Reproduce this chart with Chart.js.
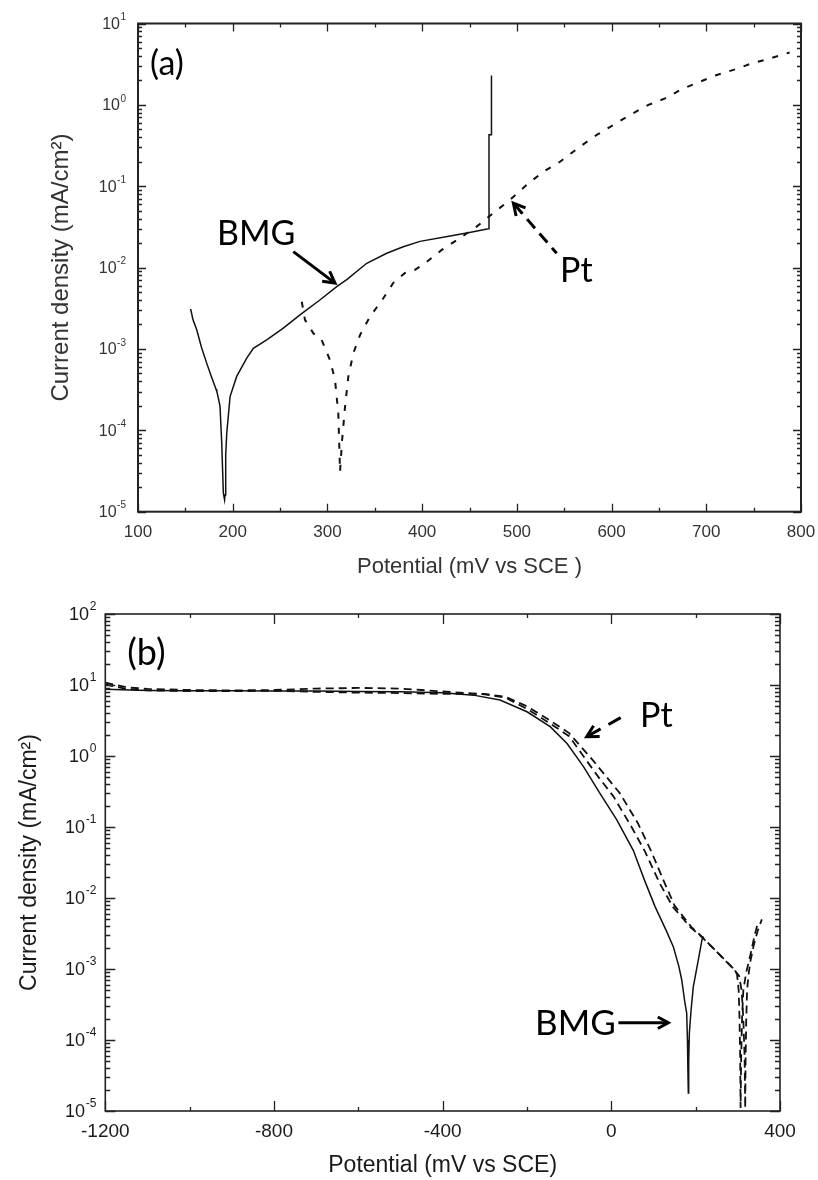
<!DOCTYPE html>
<html>
<head>
<meta charset="utf-8">
<title>Polarization curves</title>
<script src="https://cdn.jsdelivr.net/npm/chart.js@4.4.0/dist/chart.umd.min.js"></script>
<style>
  html, body { margin: 0; padding: 0; background: #fff; }
  #wrap { position: relative; width: 818px; height: 1180px; }
  .box { position: absolute; left: 0; width: 818px; height: 590px; }
</style>
</head>
<body>
<div id="wrap">
  <div class="box" style="top:0"><canvas id="chartA" width="818" height="590"></canvas></div>
  <div class="box" style="top:590px"><canvas id="chartB" width="818" height="590"></canvas></div>
</div>
<script>
/*
 * (a) anodic scan : potential (mV vs SCE) / current density (mA/cm2)
 * */
var potA_bmg = [155.6, 158, 162, 167, 172.5, 178, 182.4, 183.2, 184.5, 186.6, 188.4, 190.1, 191.4, 191.9, 192.6, 193.7, 197.2, 204.2, 214.8, 221.8, 235.9, 253.4, 271, 292, 309.8, 320.4, 341.5, 362.6, 380, 397.8, 429.5, 450, 469.9, 470.6, 470.6, 473.2, 473.2];
var curA_bmg = [3.1e-3, 2.3e-3, 1.72e-3, 1.05e-3, 6.7e-4, 4.4e-4, 3.2e-4, 3.0e-4, 2.6e-4, 1.97e-4, 7e-5, 1.7e-5, 1.4e-5, 1.6e-5, 5e-5, 9.2e-5, 2.6e-4, 4.6e-4, 7.7e-4, 1.02e-3, 1.29e-3, 1.8e-3, 2.63e-3, 4.0e-3, 5.85e-3, 7.1e-3, 1.13e-2, 1.5e-2, 1.8e-2, 2.1e-2, 2.45e-2, 2.7e-2, 3.0e-2, 3.0e-2, 0.43, 0.43, 2.3];

var potA_pt = [272.9, 276.3, 285.1, 293.9, 302.7, 308, 311.5, 312.6, 313.3, 315.5, 318.6, 322.1, 327.4, 334.5, 345, 359, 369.6, 381.9, 392, 403, 420.7, 439.9, 457.5, 477, 492.8, 510.4, 528, 545.6, 566.7, 584.3, 601.9, 619.5, 638.9, 656.5, 674.1, 693.5, 711.1, 728.7, 746.3, 763.9, 788];
var curA_pt = [3.8e-3, 2.28e-3, 1.56e-3, 1.29e-3, 7.3e-4, 4.2e-4, 1.6e-4, 6e-5, 3.1e-5, 7.6e-5, 1.96e-4, 4.6e-4, 8.9e-4, 1.49e-3, 2.5e-3, 4.2e-3, 6.5e-3, 8.6e-3, 9.3e-3, 1.13e-2, 1.65e-2, 2.3e-2, 3.19e-2, 4.87e-2, 6.8e-2, 0.104, 0.151, 0.2, 0.307, 0.427, 0.566, 0.752, 1.0, 1.2, 1.56, 1.93, 2.33, 2.69, 3.18, 3.63, 4.4];

/*
 * (b) full scan
 * */
var potB_bmg = [-1200, -1100, -1000, -900, -800, -700, -600, -500, -400, -327, -264, -200, -145, -105, -66, -27, 13, 52, 80, 104, 130, 147, 160, 167, 174, 178.7, 180.5, 181.5, 182.6, 183.5, 185, 189, 194.4, 206.3, 214.2, 217];
var curB_bmg = [8.7, 8.4, 8.3, 8.3, 8.2, 8.2, 8.1, 8.05, 7.8, 7.2, 6.15, 4.2, 2.59, 1.5, 0.71, 0.298, 0.126, 0.047, 0.017, 7.5e-3, 3.5e-3, 2.06e-3, 1.1e-3, 7e-4, 3.5e-4, 2.4e-4, 1e-4, 4e-5, 1.8e-5, 5e-5, 1.24e-4, 2.6e-4, 5.6e-4, 1.34e-3, 2.43e-3, 2.9e-3];

var potB_pt1 = [-1200, -1150, -1100, -1000, -900, -800, -700, -600, -500, -450, -400, -300, -250, -200, -150, -100, -58, -30, 5, 48, 80, 115, 146, 187, 214, 250, 289, 298, 302, 304, 305.5, 306.5, 308, 310, 313, 320, 330, 340, 348];
var curB_pt1 = [10.8, 9.3, 8.8, 8.5, 8.4, 8.5, 8.9, 9.1, 8.9, 8.5, 8.1, 7.4, 6.6, 4.6, 3.0, 1.9, 0.85, 0.5, 0.27, 0.1, 0.045, 0.016, 7.5e-3, 3.9e-3, 2.85e-3, 1.75e-3, 1.02e-3, 8.5e-4, 5e-4, 2e-4, 6e-5, 1.1e-5, 6e-5, 2e-4, 5e-4, 9e-4, 1.6e-3, 3e-3, 4.6e-3];

var potB_pt2 = [-1200, -1150, -1100, -1000, -900, -800, -700, -600, -500, -400, -300, -250, -200, -150, -100, -43, 20, 63, 95, 125, 150, 190, 216, 250, 290, 303, 309, 313, 316, 317.5, 318.5, 320, 322, 325, 330, 338, 348, 357];
var curB_pt2 = [10.2, 8.8, 8.4, 8.2, 8.2, 8.3, 8.0, 7.8, 7.7, 7.5, 7.5, 6.8, 5.0, 3.3, 2.1, 0.86, 0.3, 0.113, 0.045, 0.017, 7.8e-3, 3.9e-3, 2.8e-3, 1.75e-3, 1.0e-3, 8e-4, 5e-4, 2e-4, 6e-5, 1.1e-5, 6e-5, 2e-4, 5e-4, 8e-4, 1.3e-3, 2.2e-3, 3.6e-3, 5e-3];

var SANS = "'Liberation Sans', Arial, sans-serif";
var NOTE_FONT = "Lato, 'Open Sans', sans-serif";

function toPoints(xs, ys) {
    var pts = [];
    for (var i = 0; i < xs.length; i++) {
        pts.push({x: xs[i], y: ys[i]});
    }
    return pts;
}

// frame, inward ticks (top/bottom/left/right) and 10^n labels
var frameTicks = {
    id: 'frameTicks',
    afterDatasetsDraw: function (chart, args, o) {
        var ctx = chart.ctx;
        var a = chart.chartArea;
        var xs = chart.scales.x;
        var ys = chart.scales.y;

        ctx.save();
        ctx.strokeStyle = o.color;
        ctx.lineWidth = o.tickWidth;
        ctx.beginPath();

        var xt = xs.ticks;
        for (var i = 0; i < xt.length; i++) {
            var px = Math.round(xs.getPixelForValue(xt[i].value)) + 0.5;
            ctx.moveTo(px, a.bottom); ctx.lineTo(px, a.bottom - o.xMajor);
            ctx.moveTo(px, a.top); ctx.lineTo(px, a.top + o.xMajor);
            if (i < xt.length - 1) {
                var pm = Math.round(xs.getPixelForValue((xt[i].value + xt[i + 1].value) / 2)) + 0.5;
                ctx.moveTo(pm, a.bottom); ctx.lineTo(pm, a.bottom - o.xMinor);
                ctx.moveTo(pm, a.top); ctx.lineTo(pm, a.top + o.xMinor);
            }
        }

        var lo = Math.round(Math.log10(ys.min));
        var hi = Math.round(Math.log10(ys.max));
        for (var e = lo; e <= hi; e++) {
            for (var m = 1; m <= 9; m++) {
                if (e === hi && m > 1) break;
                var py = Math.round(ys.getPixelForValue(m * Math.pow(10, e))) + 0.5;
                var len = m === 1 ? o.yMajor : o.yMinor;
                ctx.moveTo(a.left, py); ctx.lineTo(a.left + len, py);
                ctx.moveTo(a.right, py); ctx.lineTo(a.right - len, py);
            }
        }
        ctx.stroke();

        ctx.lineWidth = o.frameWidth;
        ctx.strokeRect(a.left, a.top, a.right - a.left, a.bottom - a.top);

        // decade labels: "10" with a small raised exponent
        ctx.fillStyle = o.textColor;
        ctx.textAlign = 'right';
        ctx.textBaseline = 'middle';
        for (var d = lo; d <= hi; d++) {
            var y = ys.getPixelForValue(Math.pow(10, d));
            var exp = String(d);
            ctx.font = o.expSize + 'px ' + SANS;
            var ew = ctx.measureText(exp).width;
            ctx.fillText(exp, a.left - o.labelGap, y - o.expRaise);
            ctx.font = o.baseSize + 'px ' + SANS;
            ctx.fillText('10', a.left - o.labelGap - ew - 0.5, y + o.baseShift);
        }
        ctx.restore();
    }
};

// text labels and arrows placed in data coordinates
var notes = {
    id: 'notes',
    afterDraw: function (chart, args, o) {
        var ctx = chart.ctx;
        var xs = chart.scales.x;
        var ys = chart.scales.y;
        ctx.save();
        ctx.fillStyle = '#000';
        ctx.textAlign = 'left';
        ctx.textBaseline = 'alphabetic';
        o.labels.forEach(function (l) {
            ctx.font = l.size + 'px ' + NOTE_FONT;
            ctx.fillText(l.text, xs.getPixelForValue(l.x), ys.getPixelForValue(l.y));
        });
        ctx.strokeStyle = '#000';
        ctx.lineCap = 'butt';
        o.arrows.forEach(function (ar) {
            var x1 = xs.getPixelForValue(ar.from[0]), y1 = ys.getPixelForValue(ar.from[1]);
            var x2 = xs.getPixelForValue(ar.to[0]), y2 = ys.getPixelForValue(ar.to[1]);
            var ang = Math.atan2(y1 - y2, x1 - x2);
            ctx.lineWidth = ar.width;
            ctx.setLineDash(ar.dash);
            ctx.beginPath();
            ctx.moveTo(x2 + Math.cos(ang) * 2, y2 + Math.sin(ang) * 2);
            ctx.lineTo(x1, y1);
            ctx.stroke();
            ctx.setLineDash([]);
            ctx.beginPath();
            ctx.moveTo(x2 + Math.cos(ang + 0.5) * ar.head, y2 + Math.sin(ang + 0.5) * ar.head);
            ctx.lineTo(x2, y2);
            ctx.lineTo(x2 + Math.cos(ang - 0.5) * ar.head, y2 + Math.sin(ang - 0.5) * ar.head);
            ctx.stroke();
        });
        ctx.restore();
    }
};

function lineSet(xs, ys, dash, width) {
    return {
        data: toPoints(xs, ys),
        borderColor: '#111',
        borderWidth: width,
        borderDash: dash,
        pointRadius: 0,
        tension: 0,
        fill: false
    };
}

function loadChart(canvasId, datasets, cfg) {
    var ctx = document.getElementById(canvasId).getContext('2d');
    return new Chart(ctx, {
        type: 'line',
        data: {datasets: datasets},
        plugins: [frameTicks, notes],
        options: {
            responsive: false,
            animation: false,
            events: [],
            layout: {padding: {top: cfg.padTop, right: cfg.padRight, left: 0, bottom: 0}},
            plugins: {
                legend: {display: false},
                tooltip: {enabled: false},
                frameTicks: cfg.ticks,
                notes: cfg.notes
            },
            scales: {
                x: {
                    type: 'linear',
                    min: cfg.xMin,
                    max: cfg.xMax,
                    ticks: {
                        stepSize: cfg.xStep,
                        padding: cfg.xTickPad,
                        color: cfg.textColor,
                        font: {family: SANS, size: cfg.xTickSize, lineHeight: cfg.xTickLine},
                        maxRotation: 0,
                        autoSkip: false,
                        callback: function (v) { return String(v); }
                    },
                    grid: {display: false, drawTicks: false},
                    border: {display: false},
                    title: {
                        display: true,
                        text: cfg.xTitle,
                        color: cfg.textColor,
                        font: {family: SANS, size: cfg.xTitleSize},
                        padding: {top: 0, bottom: cfg.xTitlePad}
                    },
                    afterFit: function (s) { s.height = cfg.xHeight; }
                },
                y: {
                    type: 'logarithmic',
                    min: cfg.yMin,
                    max: cfg.yMax,
                    ticks: {display: false},
                    grid: {display: false, drawTicks: false},
                    border: {display: false},
                    title: {
                        display: true,
                        text: 'Current density (mA/cm\u00B2)',
                        color: cfg.textColor,
                        font: {family: SANS, size: cfg.yTitleSize},
                        padding: {top: cfg.yTitlePad, bottom: 0}
                    },
                    afterFit: function (s) { s.width = cfg.yWidth; }
                }
            }
        }
    });
}

loadChart('chartA', [
    lineSet(potA_bmg, curA_bmg, [], 1.5),
    lineSet(potA_pt, curA_pt, [6, 9], 2)
], {
    padTop: 23.5, padRight: 17,
    xMin: 100, xMax: 800, xStep: 100, xTickPad: 0, xTickSize: 17, xTickLine: 2.4,
    xTitle: 'Potential (mV vs SCE )', xTitleSize: 22, xTitlePad: 10, xHeight: 78.3,
    yMin: 1e-5, yMax: 10, yTitleSize: 24, yTitlePad: 47, yWidth: 138,
    textColor: '#333',
    ticks: {color: '#222', tickWidth: 1.3, frameWidth: 2, xMajor: 8, xMinor: 4, yMajor: 8, yMinor: 4,
            textColor: '#333', baseSize: 16, expSize: 10, labelGap: 12, expRaise: 6, baseShift: 1},
    notes: {
        labels: [
            {text: '(a)', x: 112.7, y: 2.33, size: 34},
            {text: 'BMG', x: 183.4, y: 0.019, size: 34},
            {text: 'Pt', x: 545.6, y: 0.0067, size: 34}
        ],
        arrows: [
            {from: [264, 0.0157], to: [308, 0.00645], dash: [], width: 3, head: 13},
            {from: [542, 0.015], to: [496.3, 0.0618], dash: [12, 7], width: 3, head: 13}
        ]
    }
});

loadChart('chartB', [
    lineSet(potB_bmg, curB_bmg, [], 1.5),
    lineSet(potB_pt1, curB_pt1, [8, 5], 1.8),
    lineSet(potB_pt2, curB_pt2, [8, 5], 1.8)
], {
    padTop: 24, padRight: 38,
    xMin: -1200, xMax: 400, xStep: 400, xTickPad: 9, xTickSize: 19, xTickLine: 1.2,
    xTitle: 'Potential (mV vs SCE)', xTitleSize: 23, xTitlePad: 1, xHeight: 69,
    yMin: 1e-5, yMax: 100, yTitleSize: 23, yTitlePad: 16, yWidth: 105.3,
    textColor: '#1a1a1a',
    ticks: {color: '#222', tickWidth: 1.3, frameWidth: 1.6, xMajor: 10, xMinor: 4, yMajor: 10, yMinor: 5,
            textColor: '#1a1a1a', baseSize: 18, expSize: 12, labelGap: 9, expRaise: 7, baseShift: 1},
    notes: {
        labels: [
            {text: '(b)', x: -1148, y: 19, size: 36},
            {text: 'Pt', x: 68, y: 2.56, size: 34},
            {text: 'BMG', x: -180.8, y: 1.17e-4, size: 35}
        ],
        arrows: [
            {from: [40.4, 3.99], to: [-58.5, 1.87], dash: [14, 9], width: 3, head: 13},
            {from: [16.7, 1.75e-4], to: [135.2, 1.75e-4], dash: [], width: 3, head: 12}
        ]
    }
});
</script>
</body>
</html>
